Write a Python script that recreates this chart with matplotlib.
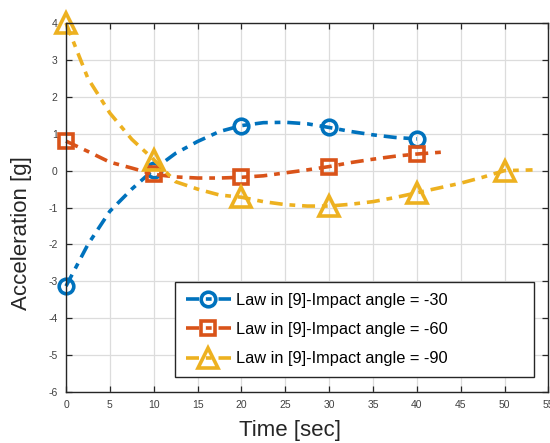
import matplotlib
matplotlib.use("Agg")
import matplotlib.pyplot as plt

plt.rcParams['font.family'] = ['Liberation Sans', 'DejaVu Sans']
plt.rcParams['axes.unicode_minus'] = False

# ---- data ----
t_30 = [0, 2.5, 5, 7.5, 10, 12.5, 15, 17.5, 20, 22.5, 25, 27.5, 30, 32.5, 35, 37.5, 40]
a_30 = [-3.13, -2.0, -1.1, -0.5, 0.03, 0.47, 0.79, 1.06, 1.22, 1.3, 1.31, 1.27, 1.17,
        1.06, 0.97, 0.9, 0.86]

t_60 = [0, 2.5, 5, 7.5, 10, 12.5, 15, 17.5, 20, 22.5, 25, 27.5, 30, 32.5, 35, 37.5, 40, 42.8]
a_60 = [0.8, 0.52, 0.23, 0.07, -0.1, -0.17, -0.2, -0.2, -0.18, -0.14, -0.06, 0.02, 0.11,
        0.22, 0.31, 0.39, 0.45, 0.5]

t_90 = [0, 2.5, 5, 7.5, 10, 12.5, 15, 17.5, 20, 22.5, 25, 27.5, 30, 32.5, 35, 37.5, 40,
        42.5, 45, 47.5, 50, 53.2]
a_90 = [4.0, 2.5, 1.56, 0.85, 0.3, -0.3, -0.5, -0.66, -0.72, -0.84, -0.92, -0.96, -0.96,
        -0.91, -0.84, -0.73, -0.6, -0.47, -0.34, -0.18, 0.0, 0.02]

labels = ['Law in [9]-Impact angle = -30',
          'Law in [9]-Impact angle = -60',
          'Law in [9]-Impact angle = -90']
x_ticks = [0, 5, 10, 15, 20, 25, 30, 35, 40, 45, 50, 55]
y_ticks = [-6, -5, -4, -3, -2, -1, 0, 1, 2, 3, 4]
x_label = 'Time [sec]'
y_label = 'Acceleration [g]'

# ---- styling ----
colors = ['#0072BD', '#D95319', '#EDB120']
markers = ['o', 's', '^']
msizes = [10.5, 9.5, 15]
dash = (3.6, 1.9, 1.6, 1.9)

fig = plt.figure(figsize=(5.5, 4.43), dpi=100)
ax = fig.add_axes([0.12, 0.115, 0.877, 0.833])

series = [(t_30, a_30), (t_60, a_60), (t_90, a_90)]
for (t, a), c, m, ms, lab in zip(series, colors, markers, msizes, labels):
    every = [i for i, v in enumerate(t) if float(v) % 10 == 0]
    ax.plot(t, a, color=c, lw=2.6, dashes=dash, marker=m, markersize=ms,
            markevery=every, fillstyle='none', markeredgewidth=2.6,
            markeredgecolor=c, label=lab, clip_on=False)

ax.set_xlim(0, 55)
ax.set_ylim(-6, 4)
ax.set_xticks(x_ticks)
ax.set_yticks(y_ticks)
ax.grid(True, color='#dcdcdc', lw=0.9)
ax.set_axisbelow(True)
for s in ax.spines.values():
    s.set_color('#262626')
    s.set_linewidth(1.0)
ax.tick_params(direction='in', length=4, width=0.9, top=True, right=True,
               labelsize=7.5, colors='#262626', labelcolor='#404040', pad=6)

ax.set_xlabel(x_label, fontsize=16, color='#262626')
ax.set_ylabel(y_label, fontsize=16, color='#262626')
ax.xaxis.set_label_coords(0.464, -0.075)
ax.yaxis.set_label_coords(-0.07, 0.43)

leg = ax.legend(loc='lower left', bbox_to_anchor=(0.2257, 0.0407, 0.745, 0.257),
                mode='expand', fontsize=11.8, handlelength=2.75, handletextpad=0.35,
                borderpad=0.65, labelspacing=0.88, fancybox=False, framealpha=1,
                edgecolor='#262626', borderaxespad=0)
leg.get_frame().set_linewidth(1.0)

fig.savefig('out.png', dpi=100)
